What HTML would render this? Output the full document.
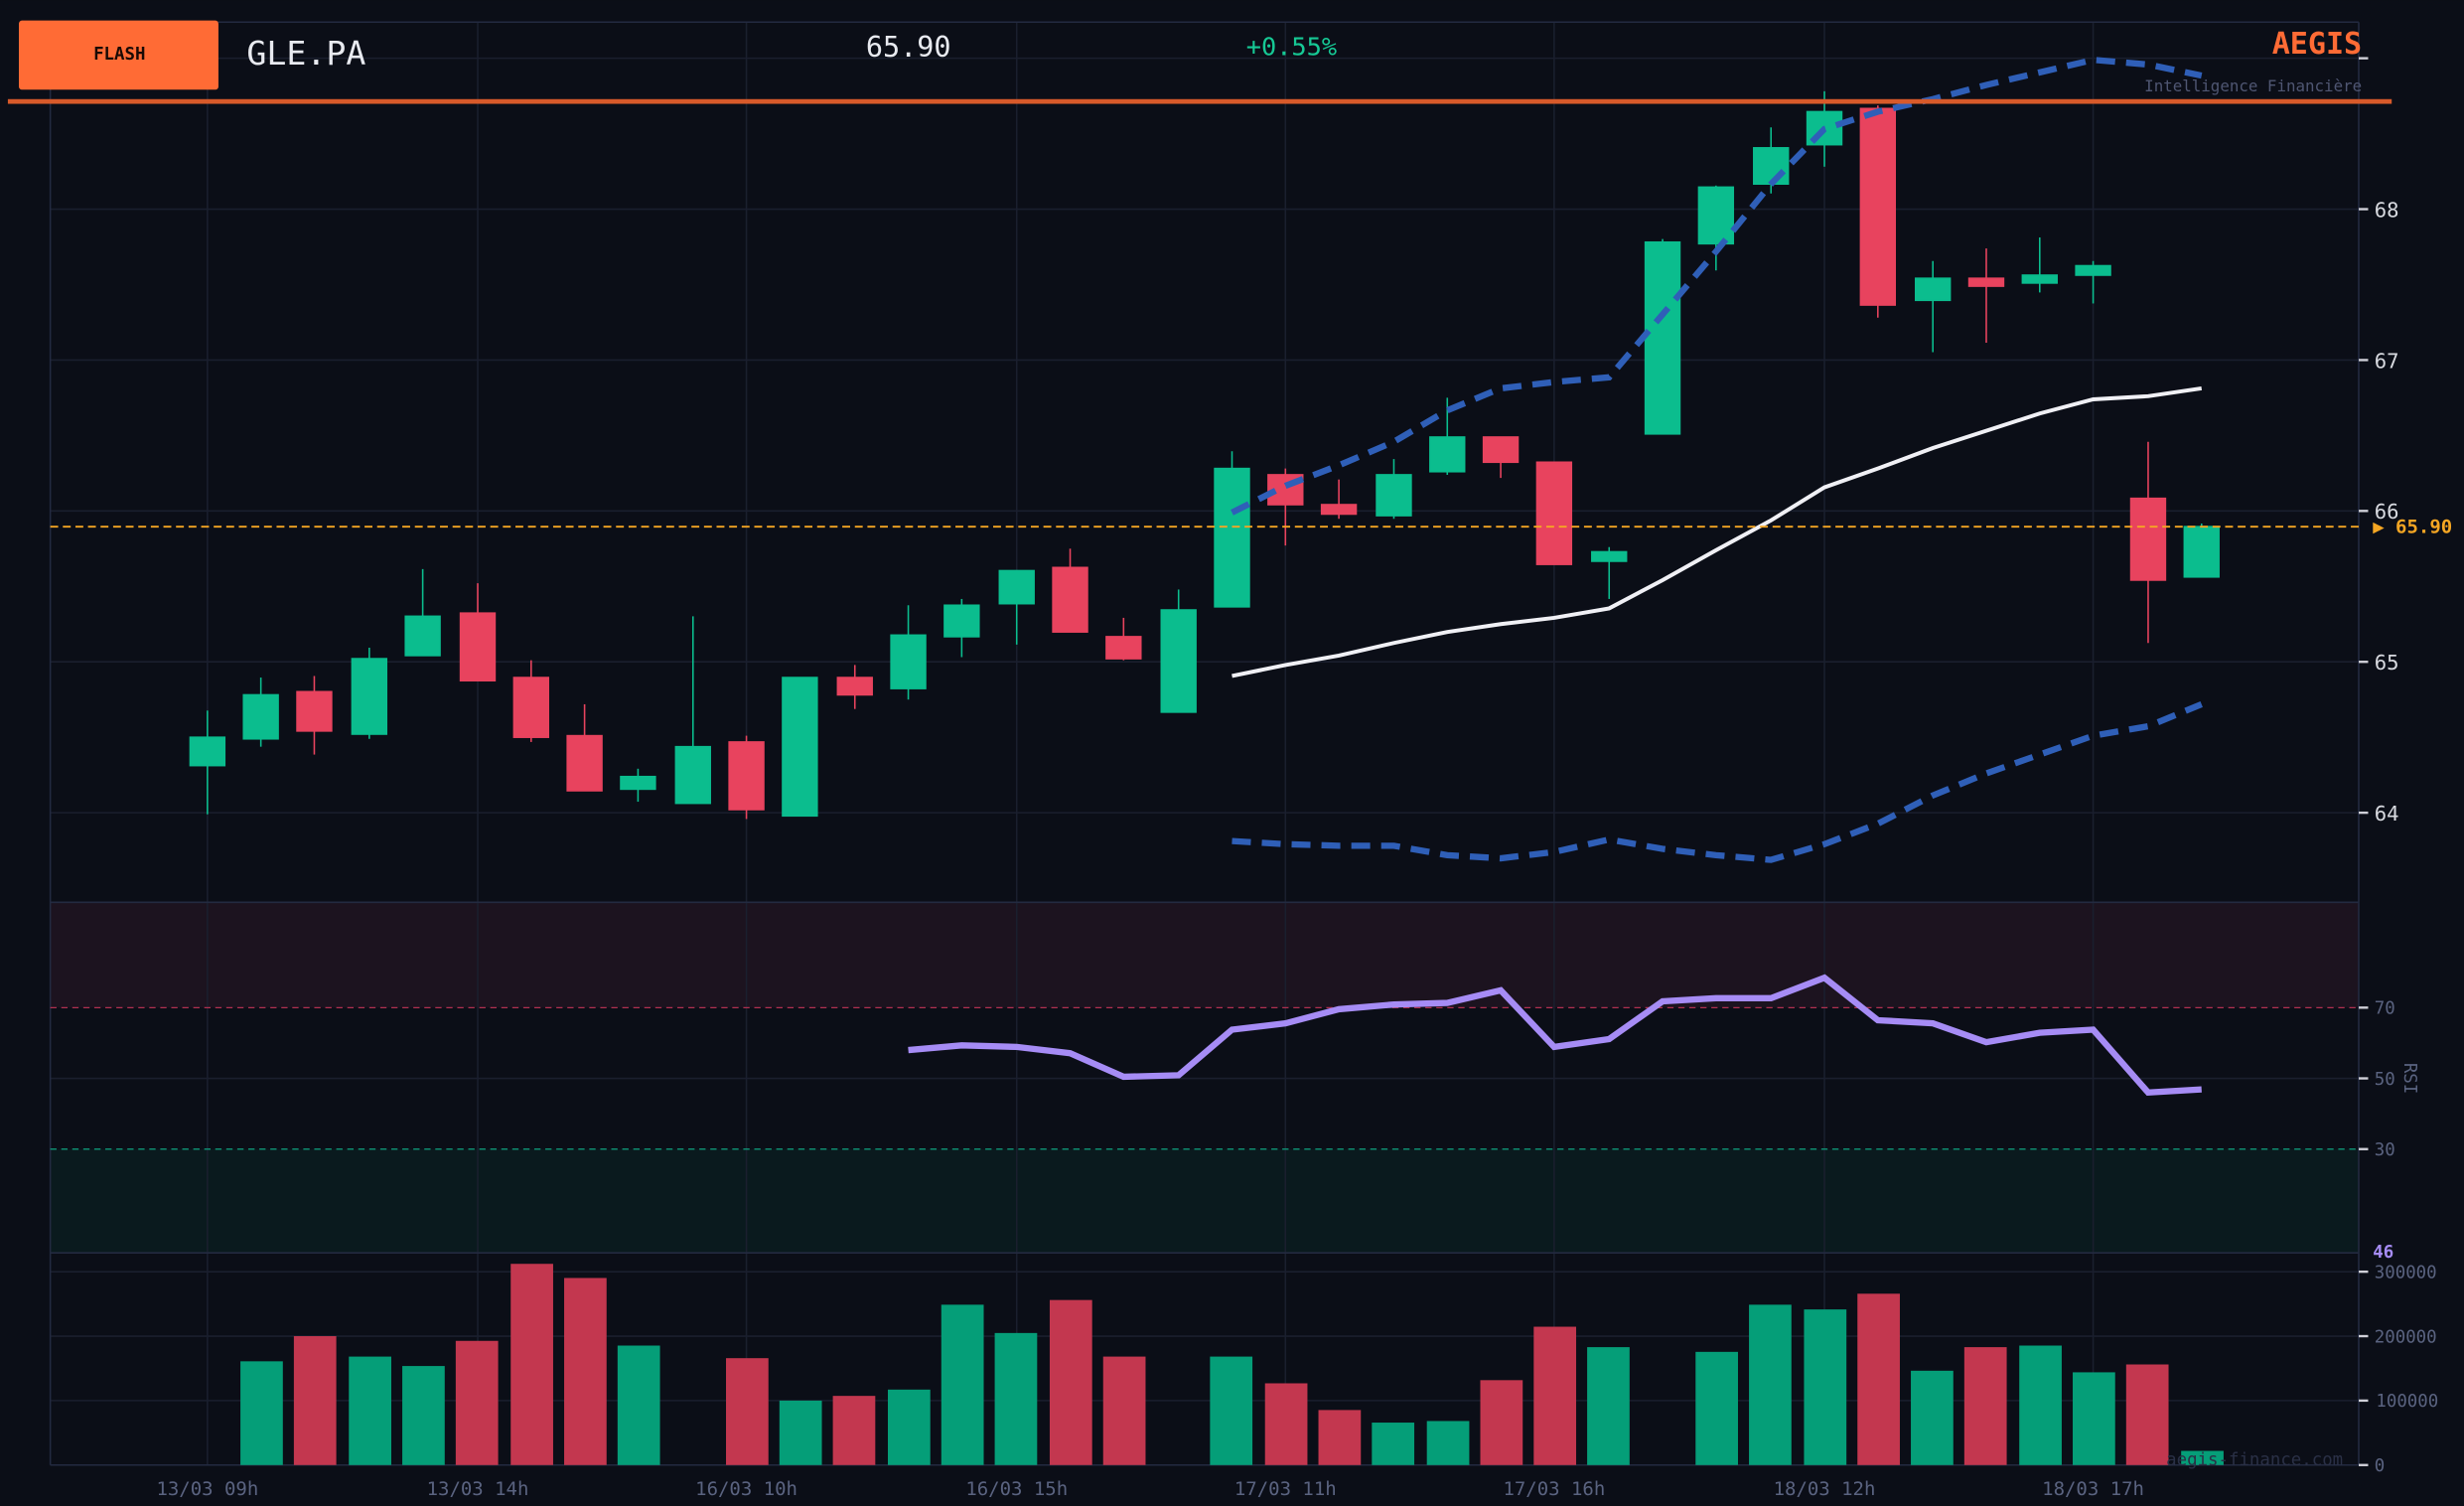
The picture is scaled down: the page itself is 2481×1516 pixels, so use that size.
<!DOCTYPE html>
<html><head><meta charset="utf-8"><style>
html,body{margin:0;padding:0;background:#0b0e17;}
svg{display:block;font-family:"DejaVu Sans Mono","Liberation Mono",monospace;}
</style></head><body>
<svg width="2481" height="1516" viewBox="0 0 1568 958" xmlns="http://www.w3.org/2000/svg">
<rect width="1568" height="958" fill="#0b0e17"/>
<rect x="32" y="574" width="1469" height="67" fill="#1c131f"/>
<rect x="32" y="731" width="1469" height="66" fill="#0a1a1e"/>
<g stroke="#1a1f2e" stroke-width="1">
<line x1="32" y1="37" x2="1501" y2="37"/>
<line x1="32" y1="133" x2="1501" y2="133"/><line x1="32" y1="229" x2="1501" y2="229"/>
<line x1="32" y1="325" x2="1501" y2="325"/><line x1="32" y1="421" x2="1501" y2="421"/>
<line x1="32" y1="517" x2="1501" y2="517"/>
<line x1="32" y1="686" x2="1501" y2="686"/>
<line x1="32" y1="809" x2="1501" y2="809"/><line x1="32" y1="850" x2="1501" y2="850"/><line x1="32" y1="891" x2="1501" y2="891"/>
<line x1="132" y1="14" x2="132" y2="932"/><line x1="304" y1="14" x2="304" y2="932"/><line x1="475" y1="14" x2="475" y2="932"/><line x1="647" y1="14" x2="647" y2="932"/><line x1="818" y1="14" x2="818" y2="932"/><line x1="989" y1="14" x2="989" y2="932"/><line x1="1161" y1="14" x2="1161" y2="932"/><line x1="1332" y1="14" x2="1332" y2="932"/>
</g>
<g stroke="#232a40" fill="none"><line x1="32" y1="14" x2="1501" y2="14"/><line x1="32" y1="14" x2="32" y2="932"/><line x1="1501" y1="14" x2="1501" y2="932"/><line x1="32" y1="932" x2="1501" y2="932"/><line x1="32" y1="574" x2="1501" y2="574"/><line x1="32" y1="797" x2="1501" y2="797"/></g>
<line x1="32" y1="641" x2="1501" y2="641" stroke="#b03050" stroke-dasharray="4,3" stroke-width="0.8"/>
<line x1="32" y1="731" x2="1501" y2="731" stroke="#10a080" stroke-dasharray="4,3" stroke-width="0.8"/>
<!-- volume -->
<g>
<rect x="153" y="866" width="27" height="66" fill="#059e78"/><rect x="187" y="850" width="27" height="82" fill="#c3374f"/>
<rect x="222" y="863" width="27" height="69" fill="#059e78"/><rect x="256" y="869" width="27" height="63" fill="#059e78"/>
<rect x="290" y="853" width="27" height="79" fill="#c3374f"/><rect x="325" y="804" width="27" height="128" fill="#c3374f"/>
<rect x="359" y="813" width="27" height="119" fill="#c3374f"/><rect x="393" y="856" width="27" height="76" fill="#059e78"/>
<rect x="462" y="864" width="27" height="68" fill="#c3374f"/><rect x="496" y="891" width="27" height="41" fill="#059e78"/>
<rect x="530" y="888" width="27" height="44" fill="#c3374f"/><rect x="565" y="884" width="27" height="48" fill="#059e78"/>
<rect x="599" y="830" width="27" height="102" fill="#059e78"/><rect x="633" y="848" width="27" height="84" fill="#059e78"/>
<rect x="668" y="827" width="27" height="105" fill="#c3374f"/><rect x="702" y="863" width="27" height="69" fill="#c3374f"/>
<rect x="770" y="863" width="27" height="69" fill="#059e78"/><rect x="805" y="880" width="27" height="52" fill="#c3374f"/>
<rect x="839" y="897" width="27" height="35" fill="#c3374f"/><rect x="873" y="905" width="27" height="27" fill="#059e78"/>
<rect x="908" y="904" width="27" height="28" fill="#059e78"/><rect x="942" y="878" width="27" height="54" fill="#c3374f"/>
<rect x="976" y="844" width="27" height="88" fill="#c3374f"/><rect x="1010" y="857" width="27" height="75" fill="#059e78"/>
<rect x="1079" y="860" width="27" height="72" fill="#059e78"/><rect x="1113" y="830" width="27" height="102" fill="#059e78"/>
<rect x="1148" y="833" width="27" height="99" fill="#059e78"/><rect x="1182" y="823" width="27" height="109" fill="#c3374f"/>
<rect x="1216" y="872" width="27" height="60" fill="#059e78"/><rect x="1250" y="857" width="27" height="75" fill="#c3374f"/>
<rect x="1285" y="856" width="27" height="76" fill="#059e78"/><rect x="1319" y="873" width="27" height="59" fill="#059e78"/>
<rect x="1353" y="868" width="27" height="64" fill="#c3374f"/><rect x="1388" y="923" width="27" height="9" fill="#059e78"/>
</g>
<text x="1491" y="932" font-size="11" fill="#2a3046" text-anchor="end">aegis-finance.com</text>
<!-- candles -->
<g stroke-width="1">
<g stroke="#0bbd8e" fill="#0bbd8e">
<line x1="132" y1="452" x2="132" y2="518"/><rect x="121" y="469" width="22" height="18"/>
<line x1="166" y1="431" x2="166" y2="475"/><rect x="155" y="442" width="22" height="28"/>
<line x1="235" y1="412" x2="235" y2="470"/><rect x="224" y="419" width="22" height="48"/>
<line x1="269" y1="362" x2="269" y2="417"/><rect x="258" y="392" width="22" height="25"/>
<line x1="406" y1="489" x2="406" y2="510"/><rect x="395" y="494" width="22" height="8"/>
<line x1="441" y1="392" x2="441" y2="511"/><rect x="430" y="475" width="22" height="36"/>
<rect x="498" y="431" width="22" height="88"/>
<line x1="578" y1="385" x2="578" y2="445"/><rect x="567" y="404" width="22" height="34"/>
<line x1="612" y1="381" x2="612" y2="418"/><rect x="601" y="385" width="22" height="20"/>
<line x1="647" y1="363" x2="647" y2="410"/><rect x="636" y="363" width="22" height="21"/>
<line x1="750" y1="375" x2="750" y2="453"/><rect x="739" y="388" width="22" height="65"/>
<line x1="784" y1="287" x2="784" y2="386"/><rect x="773" y="298" width="22" height="88"/>
<line x1="887" y1="292" x2="887" y2="330"/><rect x="876" y="302" width="22" height="26"/>
<line x1="921" y1="253" x2="921" y2="302"/><rect x="910" y="278" width="22" height="22"/>
<line x1="1024" y1="348" x2="1024" y2="381"/><rect x="1013" y="351" width="22" height="6"/>
<line x1="1058" y1="152" x2="1058" y2="276"/><rect x="1047" y="154" width="22" height="122"/>
<line x1="1092" y1="118" x2="1092" y2="172"/><rect x="1081" y="119" width="22" height="36"/>
<line x1="1127" y1="81" x2="1127" y2="123"/><rect x="1116" y="94" width="22" height="23"/>
<line x1="1161" y1="58" x2="1161" y2="106"/><rect x="1150" y="71" width="22" height="21"/>
<line x1="1230" y1="166" x2="1230" y2="224"/><rect x="1219" y="177" width="22" height="14"/>
<line x1="1298" y1="151" x2="1298" y2="186"/><rect x="1287" y="175" width="22" height="5"/>
<line x1="1332" y1="166" x2="1332" y2="193"/><rect x="1321" y="169" width="22" height="6"/>
<line x1="1401" y1="333" x2="1401" y2="367"/><rect x="1390" y="335" width="22" height="32"/>
</g>
<g stroke="#e8435e" fill="#e8435e">
<line x1="200" y1="430" x2="200" y2="480"/><rect x="189" y="440" width="22" height="25"/>
<line x1="304" y1="371" x2="304" y2="433"/><rect x="293" y="390" width="22" height="43"/>
<line x1="338" y1="420" x2="338" y2="472"/><rect x="327" y="431" width="22" height="38"/>
<line x1="372" y1="448" x2="372" y2="503"/><rect x="361" y="468" width="22" height="35"/>
<line x1="475" y1="468" x2="475" y2="521"/><rect x="464" y="472" width="22" height="43"/>
<line x1="544" y1="423" x2="544" y2="451"/><rect x="533" y="431" width="22" height="11"/>
<line x1="681" y1="349" x2="681" y2="402"/><rect x="670" y="361" width="22" height="41"/>
<line x1="715" y1="393" x2="715" y2="420"/><rect x="704" y="405" width="22" height="14"/>
<line x1="818" y1="298" x2="818" y2="347"/><rect x="807" y="302" width="22" height="19"/>
<line x1="852" y1="305" x2="852" y2="330"/><rect x="841" y="321" width="22" height="6"/>
<line x1="955" y1="278" x2="955" y2="304"/><rect x="944" y="278" width="22" height="16"/>
<rect x="978" y="294" width="22" height="65"/>
<line x1="1195" y1="67" x2="1195" y2="202"/><rect x="1184" y="69" width="22" height="125"/>
<line x1="1264" y1="158" x2="1264" y2="218"/><rect x="1253" y="177" width="22" height="5"/>
<line x1="1367" y1="281" x2="1367" y2="409"/><rect x="1356" y="317" width="22" height="52"/>
</g></g>
<!-- bands -->
<polyline fill="none" stroke="#2f5fb8" stroke-width="4" stroke-dasharray="12,7" points="784,326 818,309 852,296 887,281 921,261 955,247 989,243 1024,240 1058,200 1092,160 1127,117 1161,82 1195,71 1230,63 1264,54 1298,46 1332,38 1367,41 1401,48"/>
<polyline fill="none" stroke="#2f5fb8" stroke-width="4" stroke-dasharray="12,7" points="784,535 818,537 852,538 887,538 921,544 955,546 989,542 1024,534 1058,540 1092,544 1127,547 1161,537 1195,524 1230,506 1264,492 1298,480 1332,468 1367,462 1401,448"/>
<polyline fill="none" stroke="#f0f0f5" stroke-width="2.5" points="784,430 818,423 852,417 887,409 921,402 955,397 989,393 1024,387 1058,369 1092,350 1127,331 1161,310 1195,298 1230,285 1264,274 1298,263 1332,254 1367,252 1401,247"/>
<polyline fill="none" stroke="#a68cf5" stroke-width="4" points="578,668 612,665 647,666 681,670 715,685 750,684 784,655 818,651 852,642 887,639 921,638 955,630 989,666 1024,661 1058,637 1092,635 1127,635 1161,622 1195,649 1230,651 1264,663 1298,657 1332,655 1367,695 1401,693"/>
<line x1="32" y1="335" x2="1501" y2="335" stroke="#f5a623" stroke-width="1.2" stroke-dasharray="5,3"/>
<text x="1510" y="339" font-size="12" font-weight="bold" fill="#f5a623">▶ 65.90</text>
<!-- axis ticks -->
<g stroke="#d0d0d8" stroke-width="1.5"><line x1="1501" y1="37" x2="1507" y2="37"/><line x1="1501" y1="133" x2="1507" y2="133"/><line x1="1501" y1="229" x2="1507" y2="229"/><line x1="1501" y1="325" x2="1507" y2="325"/><line x1="1501" y1="421" x2="1507" y2="421"/><line x1="1501" y1="517" x2="1507" y2="517"/><line x1="1501" y1="641" x2="1507" y2="641"/><line x1="1501" y1="686" x2="1507" y2="686"/><line x1="1501" y1="731" x2="1507" y2="731"/><line x1="1501" y1="809" x2="1507" y2="809"/><line x1="1501" y1="850" x2="1507" y2="850"/><line x1="1501" y1="891" x2="1507" y2="891"/><line x1="1501" y1="932" x2="1507" y2="932"/></g>
<g font-size="13" fill="#d8dae0"><text x="1511" y="138">68</text><text x="1511" y="234">67</text><text x="1511" y="330">66</text><text x="1511" y="426">65</text><text x="1511" y="522">64</text></g>
<g font-size="11" fill="#5a6380"><text x="1511" y="645">70</text><text x="1511" y="690">50</text><text x="1511" y="735">30</text><text x="1511" y="813">300000</text><text x="1511" y="854">200000</text><text x="1512" y="895">100000</text><text x="1511" y="936">0</text>
<text transform="translate(1530,686) rotate(90)" text-anchor="middle" font-size="11">RSI</text></g>
<text x="1510" y="800" font-size="11" font-weight="bold" fill="#a68cf5">46</text>
<g font-size="12" fill="#5a6380" text-anchor="middle"><text x="132" y="951">13/03 09h</text><text x="304" y="951">13/03 14h</text><text x="475" y="951">16/03 10h</text><text x="647" y="951">16/03 15h</text><text x="818" y="951">17/03 11h</text><text x="989" y="951">17/03 16h</text><text x="1161" y="951">18/03 12h</text><text x="1332" y="951">18/03 17h</text></g>
<!-- header -->
<rect x="12" y="13" width="127" height="44" rx="2" fill="#ff6b35"/>
<text x="76" y="38" font-size="11" font-weight="bold" fill="#1a0a05" text-anchor="middle">FLASH</text>
<text x="157" y="41" font-size="21" fill="#e8eaf0">GLE.PA</text>
<text x="551" y="36" font-size="18" fill="#e8eaf0">65.90</text>
<text x="793" y="35" font-size="16" fill="#16c995">+0.55%</text>
<text x="1503" y="34" font-size="19" font-weight="bold" fill="#ff6b35" text-anchor="end">AEGIS</text>
<text x="1503" y="58" font-size="10" fill="#4f5672" text-anchor="end">Intelligence Financière</text>
<rect x="5" y="63" width="1517" height="3" fill="#d85a2a"/>
</svg>
</body></html>
